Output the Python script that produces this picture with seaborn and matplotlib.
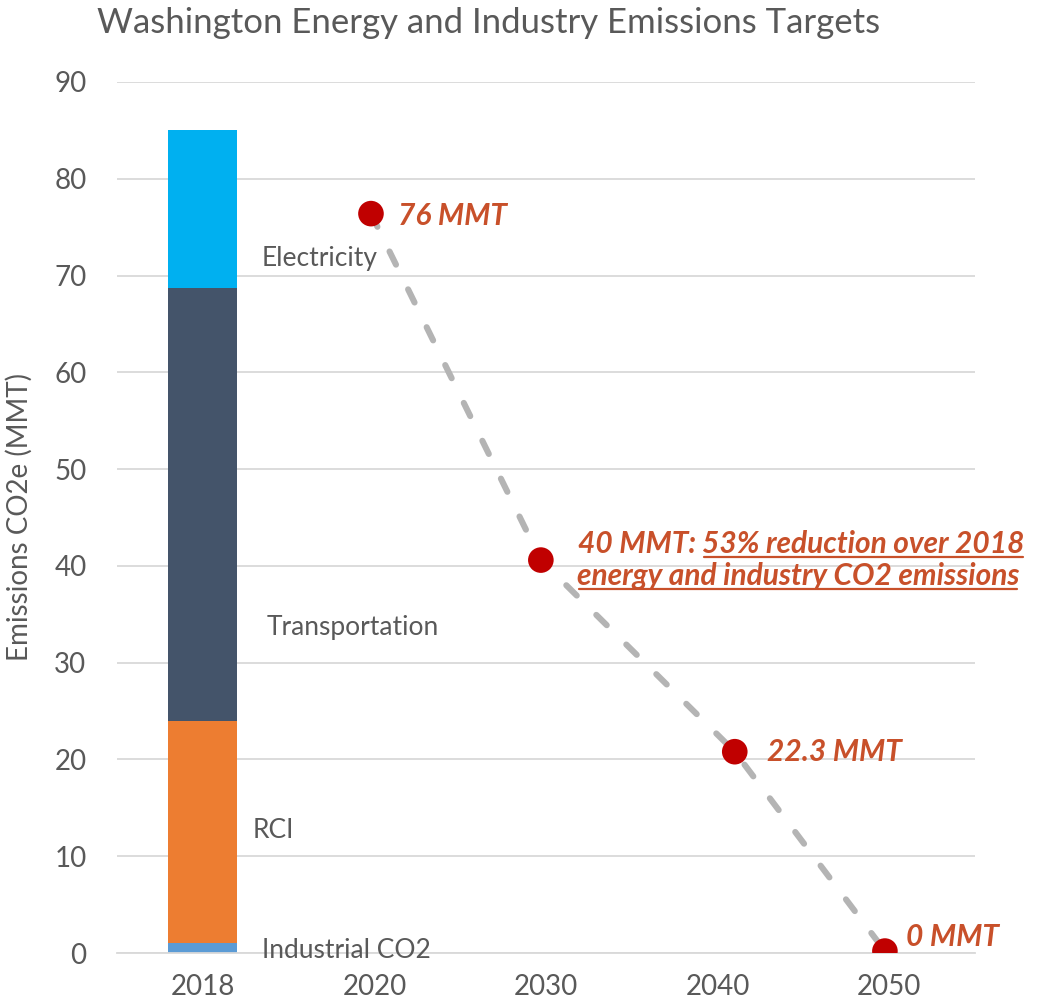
import matplotlib
matplotlib.use("Agg")
import matplotlib.pyplot as plt
import seaborn as sns
import pandas as pd
import numpy as np
from matplotlib.lines import Line2D

# data
years = ['2018', '2020', '2030', '2040', '2050']
sectors = ['Industrial CO2', 'RCI', 'Transportation', 'Electricity']
sector_values = [1.0, 23.0, 44.7, 16.3]
sector_colors = ['#5B9BD5', '#ED7D31', '#44546A', '#00B0F0']

target_pos = [0.98, 1.97, 3.10, 3.975]   # x position of the target points (category units)
target_values = [76.4, 40.6, 20.8, 0.2]
target_labels = ['76 MMT', '40 MMT: ', '22.3 MMT', '0 MMT']

grey = '#595959'
red_txt = '#C8502A'
FONT = ['Lato', 'DejaVu Sans']
RED_FS = 21.5

sns.set_style('white')
plt.rcParams['font.family'] = FONT

fig = plt.figure(figsize=(10.45, 10.08), dpi=100)
ax = fig.add_axes([117/1045, 1 - 953/1008, (975-117)/1045, (953-82)/1008])

# stacked bar: draw cumulative totals, tallest first
cum = np.cumsum(sector_values)
for name, top, col in reversed(list(zip(sectors, cum, sector_colors))):
    df = pd.DataFrame({'year': ['2018'], 'val': [top]})
    sns.barplot(data=df, x='year', y='val', order=years, color=col,
                width=0.4, saturation=1, linewidth=0, ax=ax, zorder=2)

# target line + points
tdf = pd.DataFrame({'x': target_pos, 'y': target_values})
ax.plot(tdf['x'], tdf['y'], color='#B4B4B4', lw=4.4, dashes=(2.4, 4.5),
        dash_capstyle='round', zorder=3)
sns.scatterplot(data=tdf, x='x', y='y', s=340, color='#C00000',
                edgecolor='none', ax=ax, zorder=4)

ax.set_xlim(-0.5, 4.5)
ax.set_ylim(0, 90)
ax.set_yticks(range(0, 91, 10))
ax.set_xticks(range(len(years)))
ax.set_xticklabels(years)
ax.set_xticks(np.arange(-0.5, 4.6, 1), minor=True)
ax.yaxis.grid(True, color='#D9D9D9', lw=1.3, zorder=0)
ax.set_axisbelow(True)
for s in ['left', 'right', 'top']:
    ax.spines[s].set_visible(False)
ax.spines['bottom'].set_color('#D9D9D9')
ax.spines['bottom'].set_linewidth(1.3)
ax.tick_params(axis='y', length=0, pad=22, labelsize=20, labelcolor=grey)
ax.tick_params(axis='x', which='major', length=0, pad=15, labelsize=20, labelcolor=grey)
ax.tick_params(axis='x', which='minor', length=8, width=1.3, color='#D9D9D9')
ax.set_xlabel('')
ax.set_ylabel('Emissions CO2e (MMT)', fontsize=20, color=grey)
ax.yaxis.set_label_coords(-0.098, 0.5)

# in-chart sector labels
sector_label_pos = [(0.345, 0.3), (0.29, 12.7), (0.37, 33.6), (0.345, 71.8)]
for name, (lx, ly) in zip(sectors, sector_label_pos):
    ax.text(lx, ly, name, fontsize=19, color=grey, va='center', ha='left', zorder=5)

# target labels
lab_kw = dict(textcoords='offset pixels', fontsize=RED_FS, fontweight='bold',
              fontstyle='italic', color=red_txt, ha='left', zorder=5)
ax.annotate(target_labels[0], (target_pos[0], target_values[0]), xytext=(27, -2), va='center', **lab_kw)
ax.annotate(target_labels[2], (target_pos[2], target_values[2]), xytext=(32, 0), va='center', **lab_kw)
ax.annotate(target_labels[3], (target_pos[3], target_values[3]), xytext=(21, 14), va='center', **lab_kw)
off1, off2 = 7, -25
t1 = ax.annotate(target_labels[1], (target_pos[1], target_values[1]), xytext=(37, off1), va='baseline', **lab_kw)
t2 = ax.annotate('53% reduction over 2018', (1, 0), xycoords=t1, va='bottom',
                 fontsize=RED_FS, fontweight='bold', fontstyle='italic', color=red_txt, ha='left')
t3 = ax.annotate('energy and industry CO2 emissions', (target_pos[1], target_values[1]),
                 xytext=(36, off2), va='baseline', **lab_kw)

fig.text(97/1045, 1 - 23/1008, 'Washington Energy and Industry Emissions Targets',
         fontsize=25, color=grey, ha='left', va='center')

# underline the two reduction lines
fig.canvas.draw()
r = fig.canvas.get_renderer()
base = ax.transData.transform((target_pos[1], target_values[1]))[1]
for t, off in ((t2, off1), (t3, off2)):
    bb = t.get_window_extent(r)
    y = base + off - 4
    fig.add_artist(Line2D([bb.x0 + 2, bb.x1 - 2], [y, y], transform=None, color=red_txt, lw=1.6))

fig.savefig('out.png', dpi=100)
